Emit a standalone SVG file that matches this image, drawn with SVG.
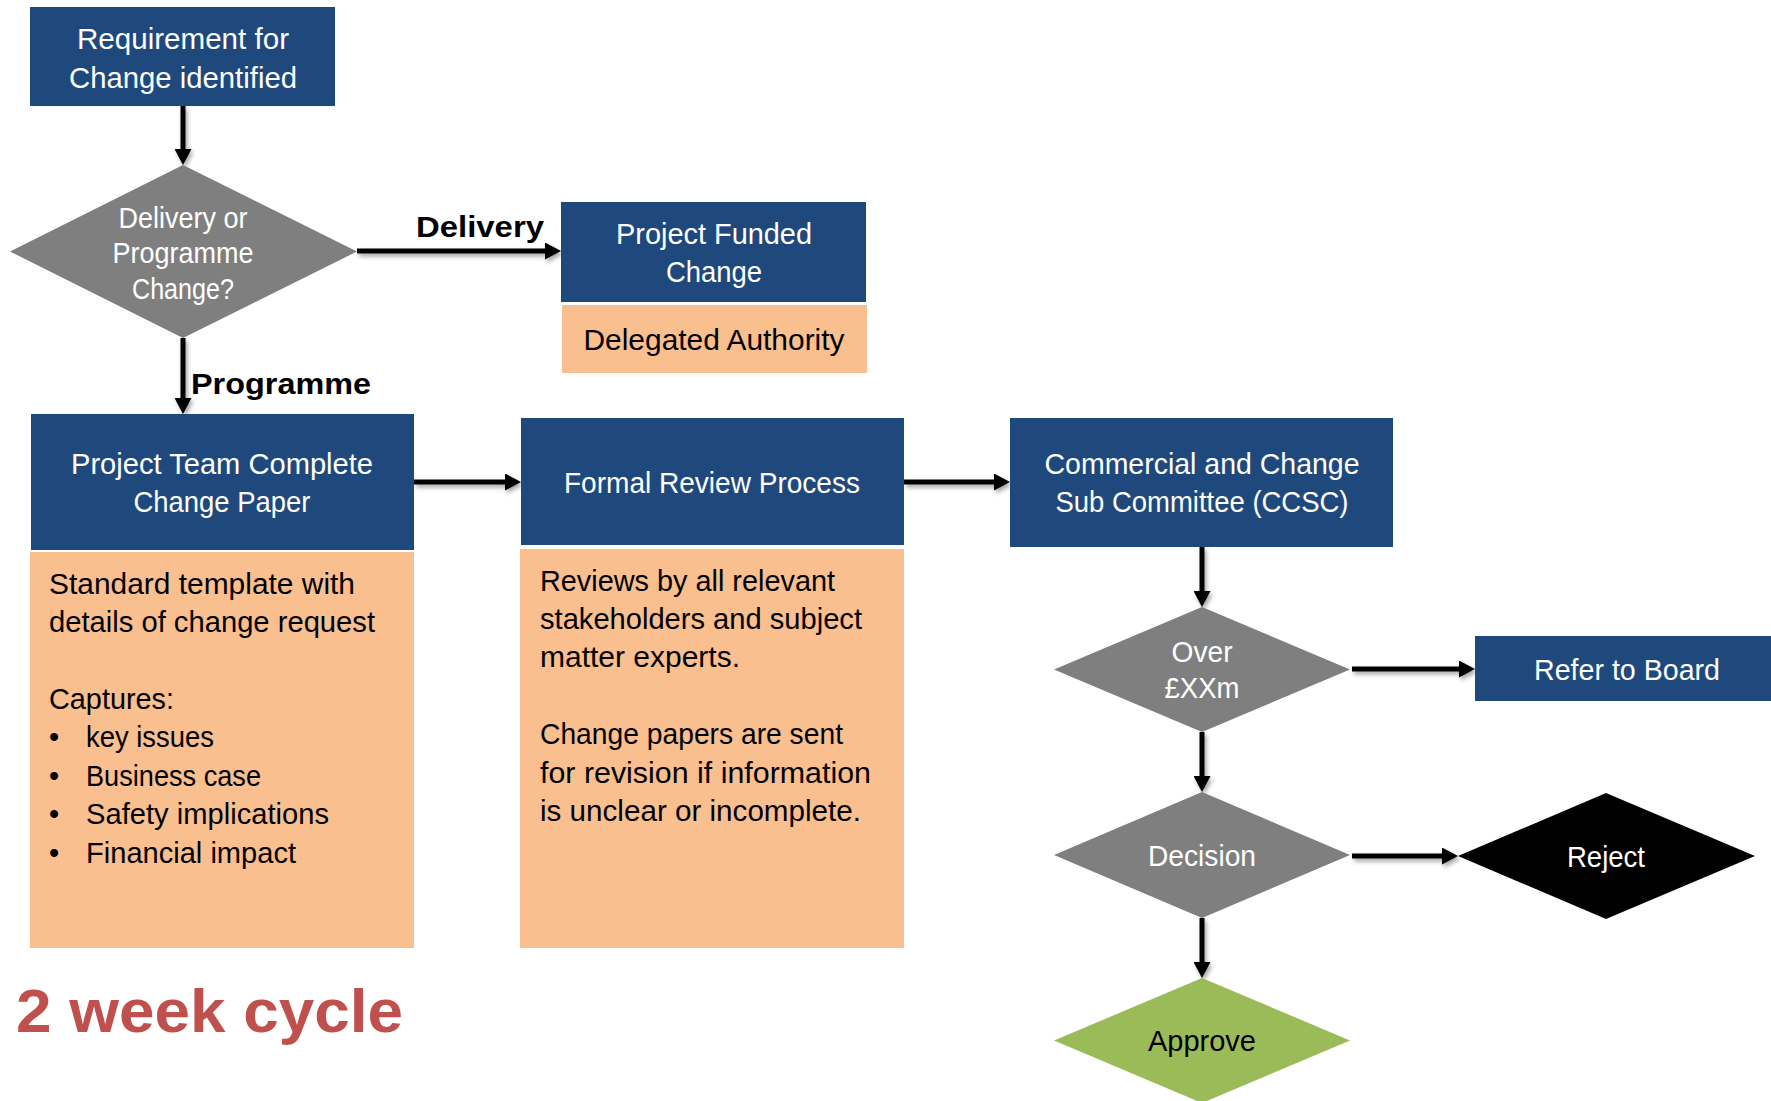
<svg xmlns="http://www.w3.org/2000/svg" width="1771" height="1101" viewBox="0 0 1771 1101">
  <defs>
    <style>
      .blue { fill: #1F497D; }
      .orange { fill: #F9BF8F; }
      .grey { fill: #7F7F7F; }
      .black { fill: #000000; }
      .green { fill: #9BBB59; }
      text { font-family: "Liberation Sans", Arial, sans-serif; font-size: 29px; }
      .wt { fill: #FFFFFF; text-anchor: middle; }
      .bt { fill: #000000; }
      .btc { fill: #000000; text-anchor: middle; }
      .lbl { fill: #000000; font-weight: bold; font-size: 30px; }
      .cycle { fill: #C0504D; font-weight: bold; font-size: 62px; }
      .conn { fill: none; stroke: #000000; stroke-width: 5; marker-end: url(#arrow); }
    </style>
    <marker id="arrow" markerUnits="userSpaceOnUse" markerWidth="17" markerHeight="17" refX="5" refY="8.5" orient="auto">
      <path d="M0,0 L16,8.5 L0,17 Z" fill="#000000"/>
    </marker>
    <filter id="shadow" filterUnits="userSpaceOnUse" x="0" y="0" width="1771" height="1101">
      <feDropShadow dx="2" dy="3" stdDeviation="2" flood-color="#000000" flood-opacity="0.35"/>
    </filter>
  </defs>

  <rect width="1771" height="1101" fill="#FFFFFF"/>

  <!-- connectors -->
  <g id="connectors" filter="url(#shadow)">
    <path class="conn" d="M183,106 V154"/>
    <path class="conn" d="M357,251 H550"/>
    <path class="conn" d="M183,338 V403"/>
    <path class="conn" d="M414,482 H510"/>
    <path class="conn" d="M904,482 H999"/>
    <path class="conn" d="M1202,547 V596"/>
    <path class="conn" d="M1352,669 H1464"/>
    <path class="conn" d="M1202,732 V781"/>
    <path class="conn" d="M1352,856 H1447"/>
    <path class="conn" d="M1202,918 V967"/>
  </g>

  <!-- edge labels -->
  <g id="edge-labels">
    <text class="lbl" x="416" y="237" textLength="128" lengthAdjust="spacingAndGlyphs">Delivery</text>
    <text class="lbl" x="191" y="394" textLength="180" lengthAdjust="spacingAndGlyphs">Programme</text>
  </g>

  <g id="requirement">
    <rect class="blue" x="30" y="7" width="305" height="99"/>
    <text class="wt" x="183" y="49" textLength="212" lengthAdjust="spacingAndGlyphs">Requirement for</text>
    <text class="wt" x="183" y="88" textLength="228" lengthAdjust="spacingAndGlyphs">Change identified</text>
  </g>

  <g id="delivery-or-programme">
    <polygon class="grey" points="183,165 357,251.5 183,338 10,251.5"/>
    <text class="wt" x="183" y="228" font-size="27" textLength="129" lengthAdjust="spacingAndGlyphs">Delivery or</text>
    <text class="wt" x="183" y="263" font-size="27" textLength="141" lengthAdjust="spacingAndGlyphs">Programme</text>
    <text class="wt" x="183" y="299" font-size="27" textLength="102" lengthAdjust="spacingAndGlyphs">Change?</text>
  </g>

  <g id="project-funded">
    <rect class="blue" x="561" y="202" width="305" height="100"/>
    <text class="wt" x="714" y="244" textLength="196" lengthAdjust="spacingAndGlyphs">Project Funded</text>
    <text class="wt" x="714" y="282" textLength="96" lengthAdjust="spacingAndGlyphs">Change</text>
  </g>

  <g id="delegated-authority">
    <rect class="orange" x="562" y="305" width="305" height="68"/>
    <text class="btc" x="714" y="350" textLength="261" lengthAdjust="spacingAndGlyphs">Delegated Authority</text>
  </g>

  <g id="project-team">
    <rect class="blue" x="31" y="414" width="383" height="136"/>
    <text class="wt" x="222" y="474" textLength="302" lengthAdjust="spacingAndGlyphs">Project Team Complete</text>
    <text class="wt" x="222" y="512" textLength="177" lengthAdjust="spacingAndGlyphs">Change Paper</text>
  </g>

  <g id="project-team-notes">
    <rect class="orange" x="30" y="552" width="384" height="396"/>
    <text class="bt" x="49" y="594" textLength="306" lengthAdjust="spacingAndGlyphs">Standard template with</text>
    <text class="bt" x="49" y="632" textLength="326" lengthAdjust="spacingAndGlyphs">details of change request</text>
    <text class="bt" x="49" y="709" textLength="125" lengthAdjust="spacingAndGlyphs">Captures:</text>
    <text class="bt" x="49" y="747">•</text>
    <text class="bt" x="86" y="747" textLength="128" lengthAdjust="spacingAndGlyphs">key issues</text>
    <text class="bt" x="49" y="786">•</text>
    <text class="bt" x="86" y="786" textLength="175" lengthAdjust="spacingAndGlyphs">Business case</text>
    <text class="bt" x="49" y="824">•</text>
    <text class="bt" x="86" y="824" textLength="243" lengthAdjust="spacingAndGlyphs">Safety implications</text>
    <text class="bt" x="49" y="863">•</text>
    <text class="bt" x="86" y="863" textLength="210" lengthAdjust="spacingAndGlyphs">Financial impact</text>
  </g>

  <g id="formal-review">
    <rect class="blue" x="521" y="418" width="383" height="127"/>
    <text class="wt" x="712" y="493" textLength="296" lengthAdjust="spacingAndGlyphs">Formal Review Process</text>
  </g>

  <g id="formal-review-notes">
    <rect class="orange" x="520" y="549" width="384" height="399"/>
    <text class="bt" x="540" y="591" textLength="295" lengthAdjust="spacingAndGlyphs">Reviews by all relevant</text>
    <text class="bt" x="540" y="629" textLength="322" lengthAdjust="spacingAndGlyphs">stakeholders and subject</text>
    <text class="bt" x="540" y="667" textLength="200" lengthAdjust="spacingAndGlyphs">matter experts.</text>
    <text class="bt" x="540" y="744" textLength="303" lengthAdjust="spacingAndGlyphs">Change papers are sent</text>
    <text class="bt" x="540" y="783" textLength="331" lengthAdjust="spacingAndGlyphs">for revision if information</text>
    <text class="bt" x="540" y="821" textLength="321" lengthAdjust="spacingAndGlyphs">is unclear or incomplete.</text>
  </g>

  <g id="ccsc">
    <rect class="blue" x="1010" y="418" width="383" height="129"/>
    <text class="wt" x="1202" y="474" textLength="315" lengthAdjust="spacingAndGlyphs">Commercial and Change</text>
    <text class="wt" x="1202" y="512" textLength="293" lengthAdjust="spacingAndGlyphs">Sub Committee (CCSC)</text>
  </g>

  <g id="over-threshold">
    <polygon class="grey" points="1202,607 1350,669.5 1202,732 1054,669.5"/>
    <text class="wt" x="1202" y="662" textLength="61" lengthAdjust="spacingAndGlyphs">Over</text>
    <text class="wt" x="1202" y="698" textLength="75" lengthAdjust="spacingAndGlyphs">£XXm</text>
  </g>

  <g id="refer-to-board">
    <rect class="blue" x="1475" y="636" width="296" height="65"/>
    <text class="wt" x="1627" y="680" textLength="186" lengthAdjust="spacingAndGlyphs">Refer to Board</text>
  </g>

  <g id="decision">
    <polygon class="grey" points="1202,792 1350,855 1202,918 1054,855"/>
    <text class="wt" x="1202" y="866" textLength="108" lengthAdjust="spacingAndGlyphs">Decision</text>
  </g>

  <g id="reject">
    <polygon class="black" points="1606,793 1755,856 1606,919 1458,856"/>
    <text class="wt" x="1606" y="867" textLength="78" lengthAdjust="spacingAndGlyphs">Reject</text>
  </g>

  <g id="approve">
    <polygon class="green" points="1202,978 1350,1040.5 1202,1103 1054,1040.5"/>
    <text class="btc" x="1202" y="1051" textLength="108" lengthAdjust="spacingAndGlyphs">Approve</text>
  </g>

  <text class="cycle" x="16" y="1032" textLength="387" lengthAdjust="spacingAndGlyphs">2 week cycle</text>
</svg>
